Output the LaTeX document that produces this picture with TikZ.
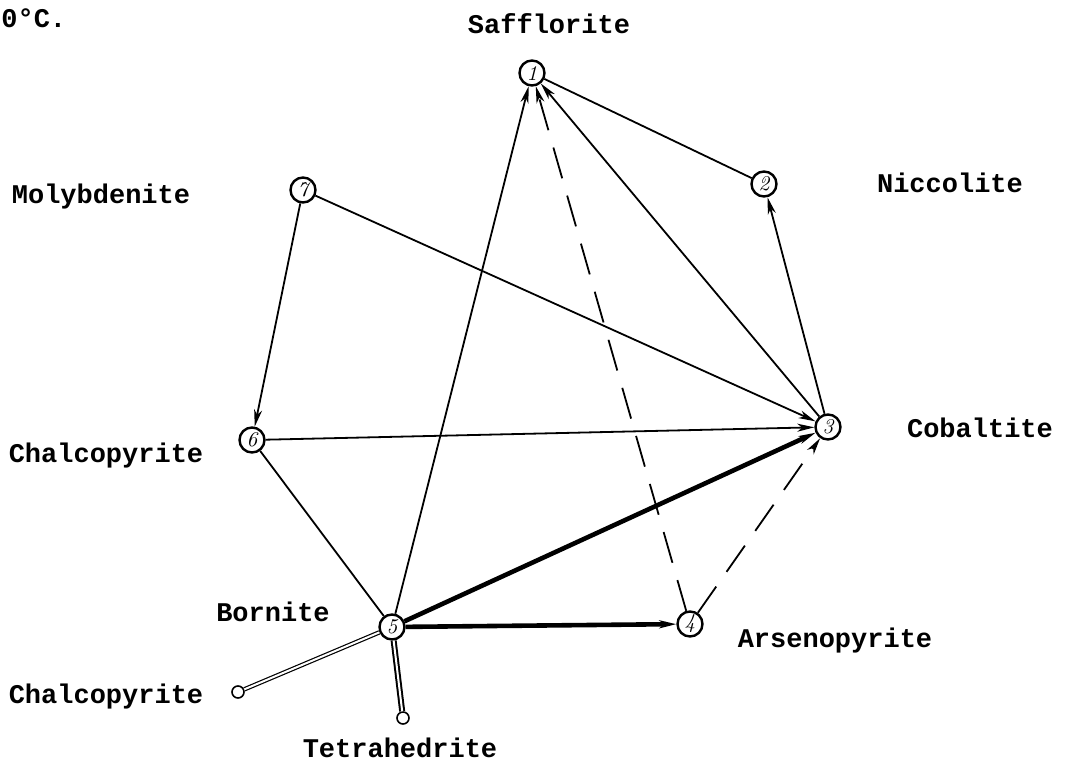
\documentclass[tikz,border=0pt]{standalone}
\usepackage{fontspec}
\setmonofont{Liberation Mono}
\usetikzlibrary{arrows.meta}

\begin{document}
\begin{tikzpicture}[
  x=0.5pt,y=-0.5pt,
  font=\ttfamily\bfseries\fontsize{13.5}{16}\selectfont,
  >={Stealth[length=8.5pt,width=4pt,inset=2.5pt]},
  mineral/.style={circle,draw,line width=1.2pt,inner sep=0pt,minimum size=12.5pt,
    font=\rmfamily\itshape\fontsize{10.5}{10.5}\selectfont},
  endtip/.style={circle,draw,line width=0.8pt,inner sep=0pt,minimum size=6pt},
  lab/.style={inner sep=0pt},
  link/.style={line width=0.9pt},
  heavy/.style={line width=2.3pt},
  broken/.style={line width=0.9pt,dash pattern=on 16pt off 9pt},
  twin/.style={double,double distance=1pt,line width=0.6pt}]
\useasboundingbox (0,0) rectangle (1073,762);
% headline
\node[lab,anchor=west] (temp) at (1,18) {0°C.};
% minerals
\node[mineral] (n1) at (532,73) {1};
\node[mineral] (n2) at (764,184) {2};
\node[mineral] (n3) at (828,427) {3};
\node[mineral] (n4) at (690,624) {4};
\node[mineral] (n5) at (392,627) {5};
\node[mineral] (n6) at (252,440) {6};
\node[mineral] (n7) at (303,190) {7};
\node[endtip] (tc) at (238,692) {};
\node[endtip] (tt) at (403,718) {};
% names
\node[lab] (l1) at (549,24) {Safflorite};
\node[lab] (l2) at (950,183) {Niccolite};
\node[lab] (l3) at (980,428) {Cobaltite};
\node[lab] (l4) at (835,641) {Arsenopyrite};
\node[lab] (l5) at (273,612) {Bornite};
\node[lab] (l6) at (106,456) {Chalcopyrite};
\node[lab] (l7) at (101,197) {Molybdenite};
\node[lab] (lc) at (106,697) {Chalcopyrite};
\node[lab] (lt) at (400,748) {Tetrahedrite};
% connectors
\draw[link] (n1) -- (n2);
\draw[link,->] (n3) -- (n2);
\draw[link,->] (n3) -- (n1);
\draw[link,->] (n5) -- (n1);
\draw[broken,->] (n4) -- (n1);
\draw[broken,->] (n4) -- (n3);
\draw[link,->] (n7) -- (n3);
\draw[link,->] (n7) -- (n6);
\draw[link,->] (n6) -- (n3);
\draw[link] (n6) -- (n5);
\draw[heavy,->] (n5) -- (n3);
\draw[heavy,->] (n5) -- (n4);
\draw[twin] (n5) -- (tc);
\draw[twin,line width=1pt] (n5) -- (tt);
\end{tikzpicture}
\end{document}
